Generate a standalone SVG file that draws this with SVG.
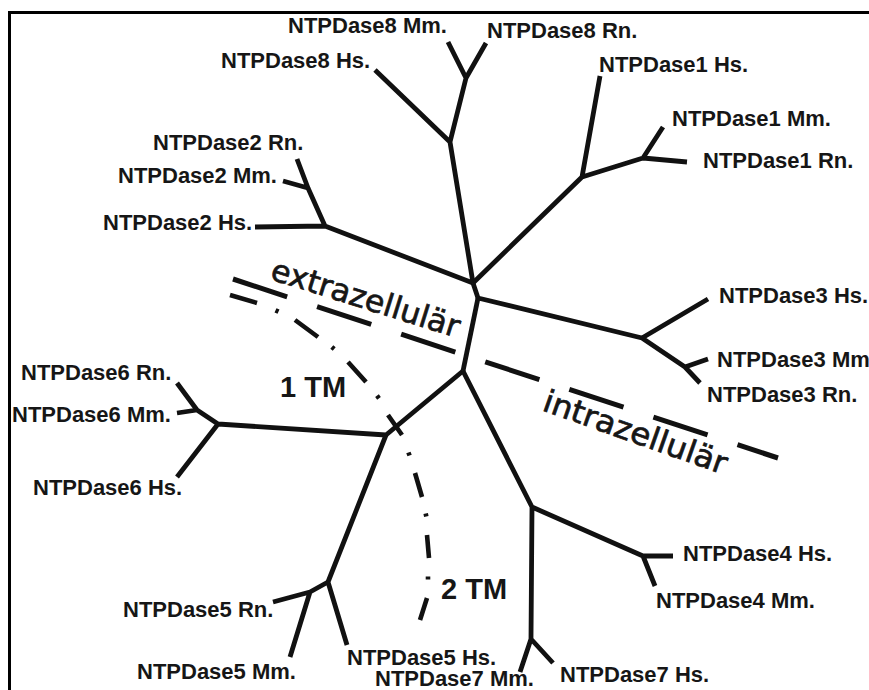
<svg xmlns="http://www.w3.org/2000/svg" width="869" height="690" viewBox="0 0 869 690">
  <style>
    .frame { fill: none; stroke: #000; stroke-width: 3; stroke-linejoin: miter; }
    .edge { fill: none; stroke: #111; stroke-width: 4.8; stroke-linecap: butt; stroke-linejoin: round; }
    .membrane { fill: none; stroke: #111; stroke-width: 5; stroke-dasharray: 57 31.5; }
    .tm { fill: none; stroke: #111; stroke-width: 4.6; stroke-linecap: butt; }
    .label { font-family: "Liberation Sans", Arial, sans-serif; font-weight: bold; font-size: 22px; fill: #161616; }
    .side { font-family: "DejaVu Sans", "Liberation Sans", sans-serif; font-size: 31px; fill: #161616; stroke: #161616; stroke-width: 0.7; }
    .tmlabel { font-family: "Liberation Sans", Arial, sans-serif; font-weight: bold; font-size: 29px; fill: #161616; }
  </style>

  <rect width="869" height="690" fill="#fff"/>
  <path class="frame" d="M9.5,690 V12.5 H869"/>

  <!-- tree edges -->
  <g id="connectors">
    <!-- NTPDase8 -->
    <path class="edge" d="M448,42 L466,78 L486,43 M466,78 L450,142 L473,283 M375,70 L450,142"/>
    <!-- NTPDase1 -->
    <path class="edge" d="M600,76 L582,177 L473,283 M582,177 L643,158 L687,162 M663,127 L643,158"/>
    <!-- NTPDase2 -->
    <path class="edge" d="M297,159 L308,188 L325,226 M283,181 L308,188 M255,227 L325,226 L473,283"/>
    <!-- NTPDase3 -->
    <path class="edge" d="M473,283 L478,298 L642,338 L708,299 M642,338 L685,367 L700,383 M685,367 L708,359"/>
    <!-- central stem -->
    <path class="edge" d="M478,298 L463,371"/>
    <!-- NTPDase6 -->
    <path class="edge" d="M463,371 L386,435 L218,424 L197,410 L177,383 M197,410 L177,413 M218,424 L177,477"/>
    <!-- NTPDase5 -->
    <path class="edge" d="M386,435 L328,582 L310,592 L273,602 M310,592 L290,657 M328,582 L347,645"/>
    <!-- NTPDase4 / NTPDase7 -->
    <path class="edge" d="M463,371 L532,507 L643,556 L673,556 M643,556 L655,586 M532,507 L531,639 L520,672 M531,639 L553,663"/>
  </g>

  <!-- membrane boundary and transmembrane split -->
  <g id="boundaries">
    <path class="membrane" d="M233,279 L778,458"/>
    <path class="tm" d="M230,295 L257,303 M275.5,310.3 L278.5,311.7 M295,320 L318,337 M331.8,347 L334.2,349 M348,362 L366,382 M377,395.7 L379,398.3 M388,415 L402,435 M408.4,452.5 L409.6,455.5 M415,473 L422,497 M425.7,513.5 L426.3,516.5 M427,535 L429,558 M428,576.5 L428,579.5 M427,598 L420,620"/>
    <text class="side" transform="translate(269,279) rotate(17.4)" textLength="196" lengthAdjust="spacingAndGlyphs">extrazellulär</text>
    <text class="side" transform="translate(541,410) rotate(19.5)" textLength="193" lengthAdjust="spacingAndGlyphs">intrazellulär</text>
    <text class="tmlabel" x="280" y="397">1 TM</text>
    <text class="tmlabel" x="441" y="599">2 TM</text>
  </g>

  <!-- leaves -->
  <g id="ntpdase8-mm"><text class="label" x="288" y="33">NTPDase8 Mm.</text></g>
  <g id="ntpdase8-rn"><text class="label" x="487" y="38">NTPDase8 Rn.</text></g>
  <g id="ntpdase8-hs"><text class="label" x="221" y="68">NTPDase8 Hs.</text></g>
  <g id="ntpdase1-hs"><text class="label" x="599" y="72">NTPDase1 Hs.</text></g>
  <g id="ntpdase1-mm"><text class="label" x="672" y="126">NTPDase1 Mm.</text></g>
  <g id="ntpdase1-rn"><text class="label" x="703" y="168">NTPDase1 Rn.</text></g>
  <g id="ntpdase2-rn"><text class="label" x="153" y="150">NTPDase2 Rn.</text></g>
  <g id="ntpdase2-mm"><text class="label" x="118" y="183">NTPDase2 Mm.</text></g>
  <g id="ntpdase2-hs"><text class="label" x="103" y="230">NTPDase2 Hs.</text></g>
  <g id="ntpdase3-hs"><text class="label" x="719" y="303">NTPDase3 Hs.</text></g>
  <g id="ntpdase3-mm"><text class="label" x="717" y="367">NTPDase3 Mm</text></g>
  <g id="ntpdase3-rn"><text class="label" x="707" y="402">NTPDase3 Rn.</text></g>
  <g id="ntpdase6-rn"><text class="label" x="21" y="380">NTPDase6 Rn.</text></g>
  <g id="ntpdase6-mm"><text class="label" x="12" y="422">NTPDase6 Mm.</text></g>
  <g id="ntpdase6-hs"><text class="label" x="33" y="495">NTPDase6 Hs.</text></g>
  <g id="ntpdase5-rn"><text class="label" x="123" y="617">NTPDase5 Rn.</text></g>
  <g id="ntpdase5-mm"><text class="label" x="137" y="679">NTPDase5 Mm.</text></g>
  <g id="ntpdase5-hs"><text class="label" x="347" y="665">NTPDase5 Hs.</text></g>
  <g id="ntpdase7-mm"><text class="label" x="375" y="686">NTPDase7 Mm.</text></g>
  <g id="ntpdase7-hs"><text class="label" x="560" y="682">NTPDase7 Hs.</text></g>
  <g id="ntpdase4-hs"><text class="label" x="683" y="561">NTPDase4 Hs.</text></g>
  <g id="ntpdase4-mm"><text class="label" x="656" y="608">NTPDase4 Mm.</text></g>
</svg>
